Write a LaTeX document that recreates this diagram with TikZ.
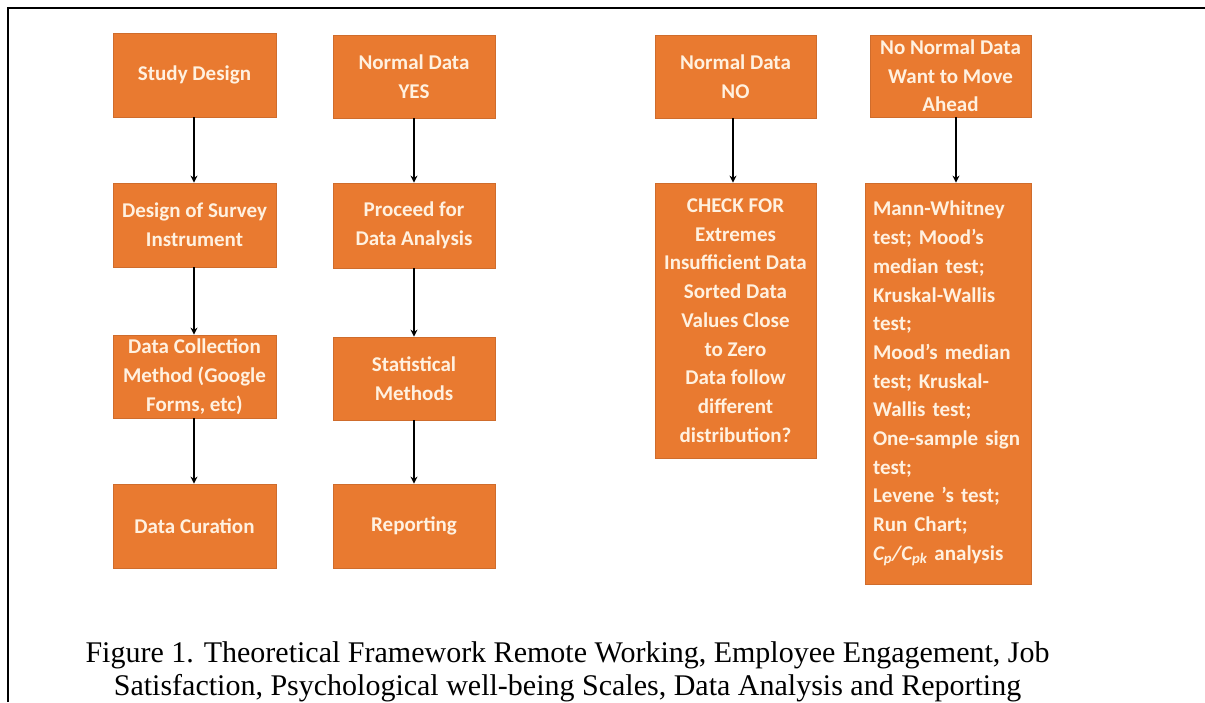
\documentclass[tikz,border=0pt]{standalone}
\usepackage{fontspec}
\setmainfont{Liberation Serif}
\newfontfamily\boxfamily{Carlito}
\usetikzlibrary{arrows.meta,calc}

\definecolor{boxfill}{HTML}{E97A30}
\definecolor{boxedge}{HTML}{CF6C2C}
\definecolor{boxtext}{HTML}{FFF1E0}

\tikzset{
  stepbox/.style={draw=boxedge, line width=0.8pt, fill=boxfill, text=boxtext,
    font=\boxfamily\bfseries\fontsize{21}{28.7}\selectfont,
    align=center, inner sep=0pt, minimum width=163pt, minimum height=84pt},
  flowarrow/.style={line width=2pt, -{Stealth[length=7pt,width=7pt]}},
  frameline/.style={line width=2.2pt},
  captext/.style={font=\fontsize{30}{33}\selectfont, anchor=base, inner sep=0pt}
}

\begin{document}
\begin{tikzpicture}[x=1pt,y=-1pt]
  \useasboundingbox (0,0) rectangle (1205,702);
  \fill[white] (0,0) rectangle (1205,702);

  % frame rules along the top and left side
  \coordinate (fl) at (8,702);
  \coordinate (fc) at (8,7.7);
  \coordinate (fr) at (1205,7.7);
  \draw[frameline] (fl) -- (fc) -- (fr);

  % column 1: survey workflow
  \node[stepbox] (sd)  at (194.5,75)    {Study Design};
  \node[stepbox] (ds)  at (194.5,225)   {Design of Survey\\Instrument};
  \node[stepbox, minimum height=83pt] (dc) at (194.5,376.5) {Data Collection\\Method (Google\\Forms, etc)};
  \node[stepbox] (cur) at (194.5,526)   {Data Curation};

  % column 2: normal data
  \node[stepbox, minimum width=162pt, minimum height=83pt] (ny)  at (414,76.5)  {Normal Data\\YES};
  \node[stepbox, minimum width=162pt, minimum height=85pt] (pd)  at (414,225.5) {Proceed for\\Data Analysis};
  \node[stepbox, minimum width=162pt, minimum height=83pt] (sm)  at (414,378.5) {Statistical\\Methods};
  \node[stepbox, minimum width=162pt] (rep) at (414,526)   {Reporting};

  % column 3: non-normal data checks
  \node[stepbox, minimum width=161pt, minimum height=83pt] (nn) at (735.5,76.5) {Normal Data\\NO};
  \node[stepbox, minimum width=161pt, minimum height=275pt] (chk) at (735.5,320.5)
    {CHECK FOR\\Extremes\\Insufficient Data\\Sorted Data\\Values Close\\to Zero\\Data follow\\different\\distribution?};

  % column 4: non-parametric route
  \node[stepbox, minimum width=161pt, minimum height=82pt] (nm) at (950.5,76) {No Normal Data\\Want to Move\\Ahead};
  \node[stepbox, minimum width=166pt, minimum height=401pt, align=left,
        text width=150pt, inner xsep=8pt] (tests) at (948,383.5)
    {Mann-Whitney\\test; Mood’s\\median test;\\Kruskal-Wallis\\test;\\Mood’s median\\test; Kruskal-\\Wallis test;\\One-sample sign\\test;\\Levene ’s test;\\Run Chart;\\{\itshape C\textsubscript{p}/C\textsubscript{pk}} analysis};

  % connectors
  \draw[flowarrow] ([xshift=-0.5pt]sd.south) -- ([xshift=-0.5pt]ds.north);
  \draw[flowarrow] ([xshift=-0.5pt]ds.south) -- ([xshift=-0.5pt]dc.north);
  \draw[flowarrow] ([xshift=-0.5pt]dc.south) -- ([xshift=-0.5pt]cur.north);
  \draw[flowarrow] (ny) -- (pd);
  \draw[flowarrow] (pd) -- (sm);
  \draw[flowarrow] (sm) -- (rep);
  \draw[flowarrow] ([xshift=-2.5pt]nn.south) -- ([xshift=-2.5pt]chk.north);
  \draw[flowarrow] ([xshift=5.5pt]nm.south) -- ([xshift=5.5pt]nm.south |- tests.north);

  % caption
  \node[captext] (cap1) at (567.5,662) {Figure 1. Theoretical Framework Remote Working, Employee Engagement, Job};
  \node[captext] (cap2) at (567.5,695) {Satisfaction, Psychological well-being Scales, Data Analysis and Reporting};
\end{tikzpicture}
\end{document}
